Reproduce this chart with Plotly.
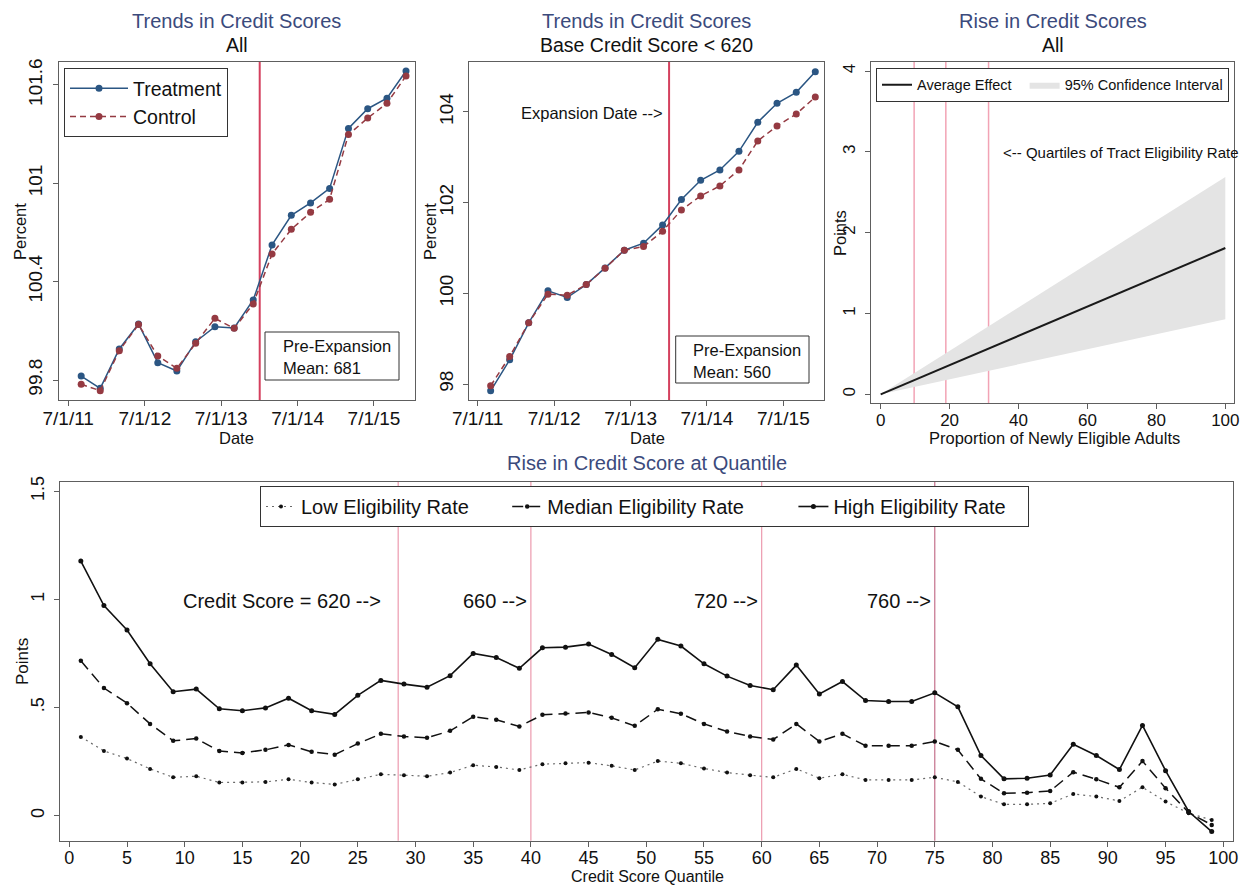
import plotly.graph_objects as go

# ---------------------------------------------------------------- data
quarters = ['2011-09-01', '2011-12-01', '2012-03-01', '2012-06-01', '2012-09-01',
            '2012-12-01', '2013-03-01', '2013-06-01', '2013-09-01', '2013-12-01',
            '2014-03-01', '2014-06-01', '2014-09-01', '2014-12-01', '2015-03-01',
            '2015-06-01', '2015-09-01', '2015-12-01']

treat_all = [99.824, 99.749, 99.989, 100.142, 99.906, 99.855, 100.034, 100.125, 100.117,
             100.288, 100.624, 100.805, 100.880, 100.969, 101.335, 101.455, 101.519, 101.685]
control_all = [99.774, 99.735, 99.979, 100.138, 99.946, 99.871, 100.024, 100.176, 100.115,
               100.264, 100.569, 100.719, 100.823, 100.902, 101.297, 101.398, 101.488, 101.655]

treat_low = [97.853, 98.536, 99.351, 100.056, 99.909, 100.195, 100.562, 100.952, 101.106,
             101.510, 102.068, 102.493, 102.721, 103.132, 103.771, 104.189, 104.432, 104.887]
control_low = [97.963, 98.609, 99.351, 99.982, 99.960, 100.195, 100.555, 100.952, 101.032,
               101.370, 101.840, 102.148, 102.369, 102.721, 103.360, 103.690, 103.954, 104.329]

expansion_date = '2014-01-01'
date_ticks = ['2011-07-01', '2012-07-01', '2013-07-01', '2014-07-01', '2015-07-01']
date_labels = ['7/1/11', '7/1/12', '7/1/13', '7/1/14', '7/1/15']

# average effect by share of newly eligible adults
prop_eligible = [0, 100]
avg_effect = [0, 1.81]
ci_lower = [0, 0.93]
ci_upper = [0, 2.69]
eligibility_quartiles = [9.7, 18.9, 31.3]

# effect at each credit score quantile
quantiles = list(range(1, 100, 2))
high_rate = [1.177, 0.971, 0.858, 0.702, 0.573, 0.585, 0.494, 0.485, 0.498, 0.543,
             0.485, 0.468, 0.556, 0.625, 0.608, 0.594, 0.647, 0.750, 0.731, 0.681,
             0.776, 0.779, 0.793, 0.745, 0.684, 0.815, 0.784, 0.702, 0.645, 0.602,
             0.582, 0.696, 0.562, 0.620, 0.532, 0.528, 0.528, 0.568, 0.503, 0.278,
             0.170, 0.173, 0.188, 0.330, 0.278, 0.213, 0.417, 0.208, 0.019, -0.074]
median_rate = [0.716, 0.590, 0.520, 0.424, 0.346, 0.356, 0.299, 0.290, 0.304, 0.327,
               0.295, 0.282, 0.333, 0.378, 0.366, 0.360, 0.392, 0.457, 0.443, 0.412,
               0.466, 0.472, 0.477, 0.452, 0.415, 0.492, 0.471, 0.424, 0.389, 0.366,
               0.352, 0.424, 0.343, 0.378, 0.323, 0.323, 0.323, 0.343, 0.304, 0.170,
               0.103, 0.106, 0.114, 0.201, 0.168, 0.131, 0.252, 0.127, 0.014, -0.043]
low_rate = [0.364, 0.299, 0.264, 0.216, 0.177, 0.182, 0.153, 0.153, 0.156, 0.168,
            0.153, 0.144, 0.168, 0.191, 0.187, 0.182, 0.199, 0.233, 0.225, 0.211,
            0.238, 0.242, 0.245, 0.230, 0.211, 0.252, 0.242, 0.218, 0.199, 0.187,
            0.177, 0.216, 0.173, 0.191, 0.165, 0.165, 0.165, 0.177, 0.156, 0.088,
            0.052, 0.052, 0.057, 0.100, 0.088, 0.068, 0.131, 0.065, 0.011, -0.020]
score_cutoffs = [28.5, 40, 60, 75]
cutoff_labels = ['Credit Score = 620 -->', '660 -->', '720 -->', '760 -->']

# ---------------------------------------------------------------- styling
W, H = 1242, 885
FONT = 'Liberation Sans, Arial, Helvetica, sans-serif'
NAVY = '#2b5683'
MAROON = '#953a42'
TITLE_C = '#3b4a7c'
FRAME = '#5e5e5e'
NB = '\u00a0'   # non-breaking space, widens horizontal legend entries


def fx(p):
    return p / W


def fy(p):
    return 1 - p / H


fig = go.Figure()

# ---- panel 1: all borrowers
fig.add_trace(go.Scatter(x=quarters, y=treat_all, name='Treatment', mode='lines+markers',
                         line=dict(color=NAVY, width=1.5), marker=dict(size=7, color=NAVY),
                         xaxis='x', yaxis='y', legend='legend'))
fig.add_trace(go.Scatter(x=quarters, y=control_all, name='Control', mode='lines+markers',
                         line=dict(color=MAROON, width=1.5, dash='6px,4px'),
                         marker=dict(size=7, color=MAROON),
                         xaxis='x', yaxis='y', legend='legend'))

# ---- panel 2: base score below 620
fig.add_trace(go.Scatter(x=quarters, y=treat_low, mode='lines+markers', showlegend=False,
                         line=dict(color=NAVY, width=1.5), marker=dict(size=7, color=NAVY),
                         xaxis='x2', yaxis='y2'))
fig.add_trace(go.Scatter(x=quarters, y=control_low, mode='lines+markers', showlegend=False,
                         line=dict(color=MAROON, width=1.5, dash='6px,4px'),
                         marker=dict(size=7, color=MAROON),
                         xaxis='x2', yaxis='y2'))

# ---- panel 3: effect vs eligibility
fig.add_trace(go.Scatter(x=prop_eligible, y=ci_lower, mode='lines', showlegend=False,
                         line=dict(width=0, color='#e4e4e4'), hoverinfo='skip',
                         xaxis='x3', yaxis='y3'))
fig.add_trace(go.Scatter(x=prop_eligible, y=ci_upper, mode='lines', fill='tonexty',
                         fillcolor='#e4e4e4', line=dict(width=0, color='#e4e4e4'),
                         name='95% Confidence Interval', legendrank=2,
                         xaxis='x3', yaxis='y3', legend='legend2'))
fig.add_trace(go.Scatter(x=prop_eligible, y=avg_effect, mode='lines',
                         name='Average Effect' + NB * 2,
                         line=dict(color='#1a1a1a', width=2), legendrank=1,
                         xaxis='x3', yaxis='y3', legend='legend2'))

# ---- panel 4: effect by credit score quantile
fig.add_trace(go.Scatter(x=quantiles, y=low_rate, name='Low Eligibility Rate' + NB * 6,
                         mode='lines+markers',
                         line=dict(color='#6a6a6a', width=1.2, dash='2px,4px'),
                         marker=dict(size=4, color='#111'),
                         xaxis='x4', yaxis='y4', legend='legend3'))
fig.add_trace(go.Scatter(x=quantiles, y=median_rate, name='Median Eligibility Rate' + NB * 8,
                         mode='lines+markers',
                         line=dict(color='#111', width=1.5, dash='11px,6px'),
                         marker=dict(size=4.5, color='#111'),
                         xaxis='x4', yaxis='y4', legend='legend3'))
fig.add_trace(go.Scatter(x=quantiles, y=high_rate, name='High Eligibility Rate' + NB * 3,
                         mode='lines+markers',
                         line=dict(color='#111', width=1.6),
                         marker=dict(size=5, color='#111'),
                         xaxis='x4', yaxis='y4', legend='legend3'))

# ---------------------------------------------------------------- axes
axis_common = dict(showline=True, mirror=True, linecolor=FRAME, linewidth=1,
                   ticks='outside', ticklen=5, tickcolor=FRAME, showgrid=False,
                   zeroline=False, fixedrange=True, automargin=False)
xaxis_common = dict(axis_common, ticklabelstandoff=-4)
yaxis_common = dict(axis_common, tickangle=-90, ticklabelstandoff=3)

fig.update_layout(
    xaxis=dict(xaxis_common, domain=[fx(59), fx(415)], anchor='y', type='date',
               range=['2011-05-18', '2016-01-13'], tickvals=date_ticks, ticktext=date_labels,
               tickfont=dict(size=19)),
    yaxis=dict(yaxis_common, domain=[fy(400), fy(62)], anchor='x',
               range=[99.678, 101.74], tickvals=[99.8, 100.4, 101, 101.6],
               ticktext=['99.8', '100.4', '101', '101.6'],
               tickfont=dict(size=19)),
    xaxis2=dict(xaxis_common, domain=[fx(469.3), fx(824.3)], anchor='y2', type='date',
                range=['2011-05-22', '2016-01-13'], tickvals=date_ticks, ticktext=date_labels,
                tickfont=dict(size=19)),
    yaxis2=dict(yaxis_common, domain=[fy(400), fy(62)], anchor='x2',
                range=[97.65, 105.1], tickvals=[98, 100, 102, 104],
                ticktext=['98', '100', '102', '104'],
                tickfont=dict(size=19)),
    xaxis3=dict(xaxis_common, domain=[fx(870.7), fx(1234.3)], anchor='y3',
                range=[-2.9, 102.6], tickvals=[0, 20, 40, 60, 80, 100],
                tickfont=dict(size=17)),
    yaxis3=dict(yaxis_common, domain=[fy(403.3), fy(61.7)], anchor='x3',
                range=[-0.111, 4.115], tickvals=[0, 1, 2, 3, 4],
                tickfont=dict(size=17)),
    xaxis4=dict(xaxis_common, domain=[fx(60.3), fx(1233.3)], anchor='y4',
                range=[-0.78, 100.87], tickvals=list(range(0, 101, 5)),
                tickfont=dict(size=18)),
    yaxis4=dict(yaxis_common, domain=[fy(840.7), fy(481.7)], anchor='x4',
                range=[-0.116, 1.544], tickvals=[0, 0.5, 1, 1.5],
                ticktext=['0', '.5', '1', '1.5'],
                tickfont=dict(size=18)),
)

# ---------------------------------------------------------------- reference lines
shapes = []
for xr, yr in (('x', 'y'), ('x2', 'y2')):
    shapes.append(dict(type='line', xref=xr, yref=yr + ' domain', x0=expansion_date,
                       x1=expansion_date, y0=0, y1=1,
                       line=dict(color='#d4405e', width=2), layer='below'))
for q in eligibility_quartiles:
    shapes.append(dict(type='line', xref='x3', yref='y3 domain', x0=q, x1=q, y0=0, y1=1,
                       line=dict(color='#f2a3b5', width=1.5), layer='below'))
for i, c in enumerate(score_cutoffs):
    col = '#c4708c' if i == len(score_cutoffs) - 1 else '#ec9aae'
    shapes.append(dict(type='line', xref='x4', yref='y4 domain', x0=c, x1=c, y0=0, y1=1,
                       line=dict(color=col, width=1.2), layer='below'))

# boxes holding the pre-expansion means
for (x0, y0, x1, y1) in ((265, 332, 399, 380), (675.7, 336, 809, 383)):
    shapes.append(dict(type='rect', xref='paper', yref='paper',
                       x0=fx(x0), x1=fx(x1), y0=fy(y1), y1=fy(y0),
                       line=dict(color='#333', width=1), fillcolor='white'))

fig.update_layout(shapes=shapes)

# ---------------------------------------------------------------- text
ann = []


def text(x, y, s, size, color='#111', xanchor='center', angle=0):
    ann.append(dict(x=fx(x), y=fy(y), xref='paper', yref='paper', text=s, showarrow=False,
                    xanchor=xanchor, yanchor='middle', textangle=angle,
                    font=dict(size=size, color=color, family=FONT)))


# titles
text(237, 21, 'Trends in Credit Scores', 20, TITLE_C)
text(237, 45, 'All', 19.5)
text(646.8, 21, 'Trends in Credit Scores', 20, TITLE_C)
text(646.8, 45, 'Base Credit Score < 620', 19.5)
text(1052.5, 21, 'Rise in Credit Scores', 20, TITLE_C)
text(1052.5, 45, 'All', 19.5)
text(647, 463, 'Rise in Credit Score at Quantile', 20, TITLE_C)

# axis titles
text(20, 232, 'Percent', 16.5, angle=-90)
text(237, 438, 'Date', 16.5)
text(430, 232, 'Percent', 16.5, angle=-90)
text(647, 438, 'Date', 16.5)
text(840, 233, 'Points', 16.5, angle=-90)
text(1054, 438, 'Proportion of Newly Eligible Adults', 16.5)
text(22, 662, 'Points', 17, angle=-90)
text(647, 876.5, 'Credit Score Quantile', 16)

# notes inside panels
text(281, 346, 'Pre-Expansion', 16.5, xanchor='left')
text(281, 368, 'Mean: 681', 16.5, xanchor='left')
text(691, 350, 'Pre-Expansion', 16.5, xanchor='left')
text(691, 372, 'Mean: 560', 16.5, xanchor='left')
text(665, 113, 'Expansion Date -->', 16.5, xanchor='right')
text(1001, 153, '<-- Quartiles of Tract Eligibility Rate', 15, xanchor='left')

cut_right = [383, 529, 760, 933]
for xr, lab in zip(cut_right, cutoff_labels):
    text(xr, 601, lab, 20, xanchor='right')

fig.update_layout(annotations=ann)

# ---------------------------------------------------------------- legends
legend_box = dict(bgcolor='white', bordercolor='#333', borderwidth=1)
fig.update_layout(
    legend=dict(legend_box, x=fx(64), y=fy(68), xanchor='left', yanchor='top',
                orientation='v', font=dict(size=19.5, family=FONT, color='#111'),
                tracegroupgap=0, itemwidth=58),
    legend2=dict(legend_box, x=fx(876), y=fy(67.7), xanchor='left', yanchor='top',
                 orientation='h', font=dict(size=14.5, family=FONT, color='#111'),
                 traceorder='normal', itemwidth=30),
    legend3=dict(legend_box, x=fx(260), y=fy(486), xanchor='left', yanchor='top',
                 orientation='h', font=dict(size=20, family=FONT, color='#111')),
)

fig.update_layout(width=W, height=H, autosize=False,
                  margin=dict(l=0, r=0, t=0, b=0, autoexpand=False),
                  paper_bgcolor='white', plot_bgcolor='white',
                  font=dict(family=FONT, color='#111'),
                  hovermode=False)

fig.write_html('out.html')
